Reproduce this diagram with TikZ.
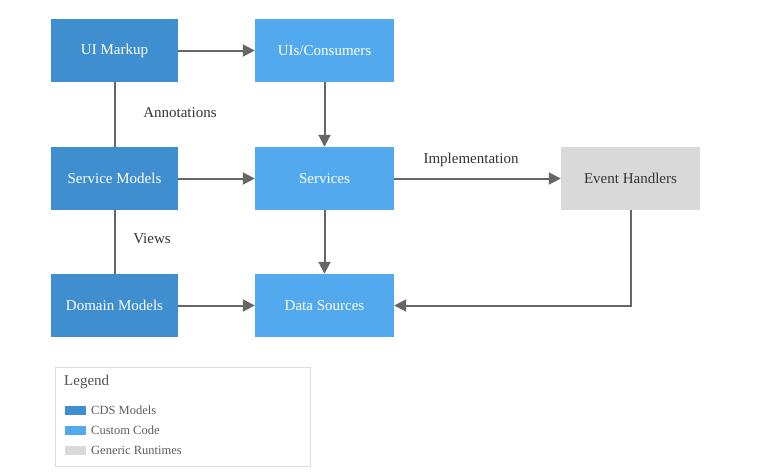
\documentclass[tikz,border=0pt]{standalone}
\usepackage{fontspec}
\setmainfont{Liberation Serif}
\newfontfamily\diagramfont{Liberation Serif}
\usetikzlibrary{arrows.meta}
\definecolor{cdsblue}{HTML}{3F8ED0}
\definecolor{codeblue}{HTML}{52A9EE}
\definecolor{rtgray}{HTML}{D9D9D9}
\definecolor{linegray}{HTML}{666666}
\definecolor{legendborder}{HTML}{DDDDDD}
\definecolor{darktext}{HTML}{333333}
\begin{document}
\begin{tikzpicture}[x=1pt,y=-1pt,
  box/.style={minimum height=63pt, inner sep=0pt, font=\diagramfont\fontsize{15}{17}\selectfont},
  cds/.style={box, fill=cdsblue, text=white, minimum width=127pt},
  code/.style={box, fill=codeblue, text=white, minimum width=139pt},
  runtime/.style={box, fill=rtgray, text=darktext, minimum width=139pt},
  flow/.style={draw=linegray, line width=2pt, -{Triangle[length=12pt,width=12pt]}},
  link/.style={draw=linegray, line width=2pt},
  lbl/.style={text=darktext, font=\diagramfont\fontsize{15}{17}\selectfont, inner sep=0pt},
  legtext/.style={text=darktext!80, font=\diagramfont\fontsize{12.5}{14}\selectfont, inner sep=0pt, anchor=west},
  swatch/.style={minimum width=21pt, minimum height=9pt, inner sep=0pt, anchor=west}
]
\useasboundingbox (0,0) rectangle (762,471);

% component boxes
\node[cds] (ui) at (114.5,50.5) {UI Markup};
\node[code] (cons) at (324.5,50.5) {UIs/Consumers};
\node[cds] (sm) at (114.5,178.5) {Service Models};
\node[code] (srv) at (324.5,178.5) {Services};
\node[runtime] (eh) at (630.5,178.5) {Event Handlers};
\node[cds] (dm) at (114.5,305.5) {Domain Models};
\node[code] (ds) at (324.5,305.5) {Data Sources};

% relations
\draw[flow] (ui) -- (cons);
\draw[flow] (cons) -- (srv);
\draw[flow] (sm) -- (srv);
\draw[flow] (srv) -- (eh);
\draw[flow] (srv) -- (ds);
\draw[flow] (dm) -- (ds);
\draw[flow] (eh.south) |- (ds.east);
\draw[link] (ui) -- (sm);
\draw[link] (sm) -- (dm);

% labels
\node[lbl] (ann) at (180,113) {Annotations};
\node[lbl] (views) at (152,239) {Views};
\node[lbl] (impl) at (471,160) {Implementation};

% legend
\node[draw=legendborder, line width=1pt, minimum width=255pt, minimum height=99pt, inner sep=0pt] (legend) at (182.5,416.5) {};
\node[legtext, text=darktext!85, font=\diagramfont\fontsize{15}{17}\selectfont] (legtitle) at (64,382) {Legend};
\node[swatch, fill=cdsblue] (sw1) at (65,410) {};
\node[legtext] (lt1) at (91,410) {CDS Models};
\node[swatch, fill=codeblue] (sw2) at (65,430) {};
\node[legtext] (lt2) at (91,430) {Custom Code};
\node[swatch, fill=rtgray] (sw3) at (65,450) {};
\node[legtext] (lt3) at (91,450) {Generic Runtimes};
\end{tikzpicture}
\end{document}
